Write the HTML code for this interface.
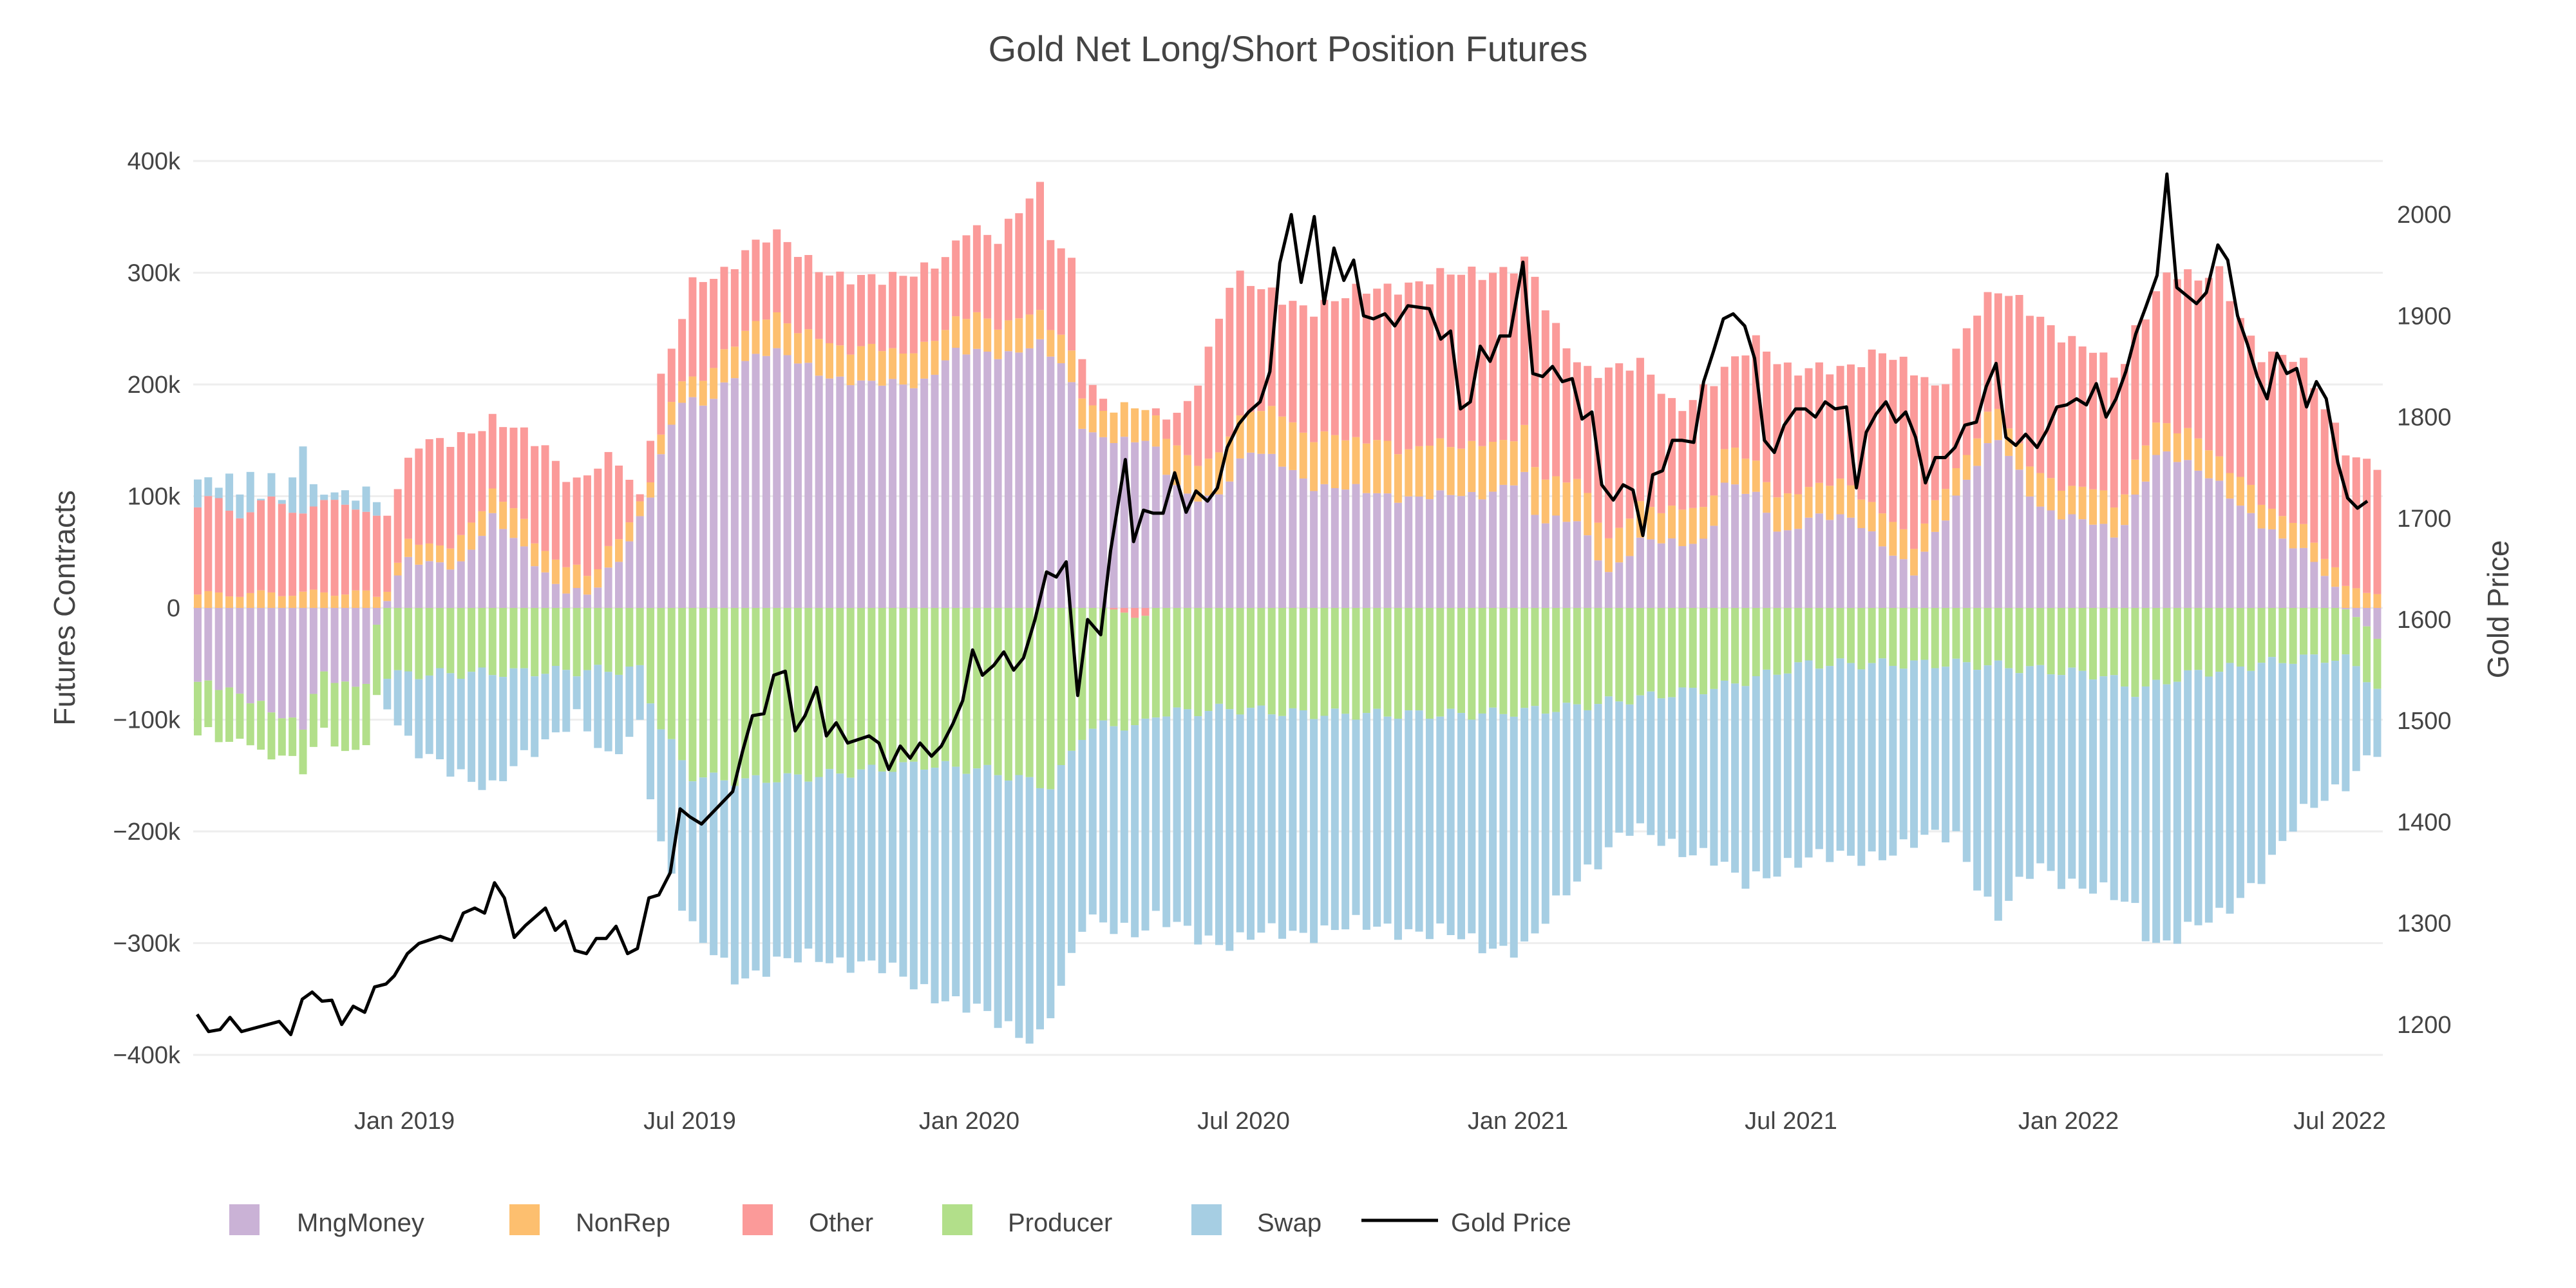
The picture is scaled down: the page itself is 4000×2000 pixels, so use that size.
<!DOCTYPE html>
<html><head><meta charset="utf-8"><style>
html,body{margin:0;padding:0;background:#fff;}
svg{display:block;font-family:"Liberation Sans","DejaVu Sans",sans-serif;}
</style></head><body>
<svg id="s" width="4000" height="2000" xmlns="http://www.w3.org/2000/svg"></svg>
<script>
(function(){
var S=document.getElementById('s'),h='';
function Y(v){return 944-v*1.735;}
function GY(v){return 962-(v-1600)*1.572;}
for(var k=-400;k<=400;k+=100){h+='<line x1="300" x2="3700" y1="'+Y(k)+'" y2="'+Y(k)+'" stroke="#eee" stroke-width="3"/>';
 h+='<text x="280" y="'+(Y(k)+13)+'" font-size="38" fill="#444" text-anchor="end">'+(k==0?'0':(k<0?'\u2212':'')+Math.abs(k)+'k')+'</text>';}
for(var g=1200;g<=2000;g+=100){h+='<text x="3722" y="'+(GY(g)+13)+'" font-size="38" fill="#444">'+g+'</text>';}
function interp(a,x){if(x<=a[0][0])return a[0][1];for(var i=1;i<a.length;i++){if(x<=a[i][0]){var t=(x-a[i-1][0])/(a[i][0]-a[i-1][0]);return a[i-1][1]+t*(a[i][1]-a[i-1][1]);}}return a[a.length-1][1];}
var P=[[120,115],[228,100],[230,68],[255,145],[300,165],[330,150],[350,110],[375,135],[390,100],[400,200],[410,235],[420,285],[440,300],[455,325],[470,335],[490,310],[510,300],[540,290],[580,320],[590,340],[605,325],[632,385],[640,330],[655,300],[660,200],[680,180],[700,170],[720,170],[735,230],[750,300],[770,280],[800,270],[850,290],[900,300],[930,310],[945,250],[965,215],[1000,215],[1020,180],[1050,210],[1070,240],[1090,215],[1120,210],[1145,235],[1165,210],[1180,190],[1200,265],[1215,285],[1240,260],[1275,230],[1290,200],[1300,250],[1320,305],[1340,290],[1350,300],[1375,230],[1400,220],[1430,140],[1445,128]];
var M=[[120,-66],[160,-85],[185,-108],[195,-60],[215,-70],[226,-60],[230,-8],[240,20],[245,40],[280,40],[300,80],[320,50],[340,20],[360,10],[380,50],[395,100],[405,150],[415,185],[430,180],[455,225],[470,230],[500,210],[530,200],[560,200],[580,230],[610,225],[632,240],[650,210],[660,155],[700,150],[710,120],[720,100],[740,100],[760,140],[780,130],[800,110],[850,100],[900,100],[930,120],[935,75],[960,80],[980,30],[1000,60],[1040,60],[1050,110],[1070,100],[1085,65],[1100,80],[1130,80],[1145,60],[1165,30],[1180,70],[1200,125],[1215,155],[1240,90],[1270,80],[1290,60],[1300,100],[1315,145],[1330,130],[1350,110],[1370,85],[1390,60],[1410,40],[1430,0],[1445,-25]];
var NR=[[120,12],[220,14],[230,10],[300,25],[400,15],[450,30],[600,30],[660,25],[700,30],[800,45],[900,45],[1000,30],[1100,30],[1200,25],[1300,30],[1445,15]];
var PR=[[120,-48],[160,-40],[185,-35],[195,-55],[228,-60],[230,-60],[390,-55],[400,-100],[420,-150],[450,-155],[500,-150],[560,-140],[600,-145],[640,-160],[660,-110],[700,-95],[750,-90],[800,-95],[900,-95],[950,-90],[1000,-80],[1050,-70],[1100,-50],[1200,-50],[1280,-60],[1300,-75],[1330,-60],[1400,-45],[1445,-45]];
var B=[[230,-70],[250,-130],[275,-140],[300,-165],[325,-125],[350,-95],[370,-140],[390,-100],[400,-200],[420,-290],[450,-330],[500,-310],[550,-330],[590,-360],[632,-385],[650,-330],[660,-280],[700,-280],[750,-300],[780,-290],[850,-285],[900,-300],[930,-305],[960,-240],[990,-200],[1040,-220],[1060,-250],[1090,-225],[1120,-225],[1160,-215],[1190,-200],[1215,-280],[1240,-230],[1270,-250],[1300,-270],[1310,-300],[1330,-290],[1350,-280],[1380,-230],[1400,-190],[1430,-150],[1445,-128]];
var C={mm:'#cab2d6',nr:'#fdbf6f',ot:'#fb9a99',pr:'#b2df8a',sw:'#a6cee3'};
function rect(x,a,b,c){var y1=Y(a),y2=Y(b);h+='<rect x="'+(x-6)+'" y="'+Math.min(y1,y2)+'" width="12" height="'+Math.abs(y2-y1)+'" fill="'+c+'"/>';}
for(var i=0;i<208;i++){
 var x=307+i*16.35,tx=x/2.551;
 var nz=Math.sin(i*2.3)*6+Math.sin(i*0.7)*4;
 var m=interp(M,tx)+nz*0.6,n=interp(NR,tx)+Math.sin(i*1.3)*3,p=interp(PR,tx)+Math.sin(i*1.7)*5;
 var o,sw,tp;
 if(tx<229){o=78+Math.sin(i*1.1)*8;sw=interp(P,tx)-o-n+Math.sin(i*2.9)*12;if(i==10)sw=60;}
 else{tp=interp(P,tx)+nz;o=tp-Math.max(m,0)-n;sw=interp(B,tx)+nz*1.2-p-Math.min(m,0);}
 var pos=0,neg=0;
 [[m,C.mm],[n,C.nr],[o,C.ot],[p,C.pr],[sw,C.sw]].forEach(function(q){var v=q[0];
  if(v>=0){rect(x,pos,pos+v,q[1]);pos+=v;}else{rect(x,neg,neg+v,q[1]);neg+=v;}});
}
var G=[[120,1210],[127,1193],[134,1195],[140,1207],[147,1193],[170,1203],[177,1190],[184,1225],[190,1232],[196,1223],[202,1224],[208,1200],[215,1218],[222,1212],[228,1237],[235,1240],[240,1248],[248,1270],[255,1280],[268,1287],[275,1283],[282,1310],[289,1315],[295,1310],[301,1340],[307,1325],[313,1286],[320,1298],[332,1315],[338,1293],[344,1302],[350,1273],[357,1270],[363,1285],[369,1285],[375,1297],[382,1270],[388,1275],[395,1325],[401,1328],[408,1350],[414,1413],[420,1405],[427,1398],[446,1430],[452,1470],[458,1505],[465,1507],[471,1545],[478,1549],[484,1490],[490,1505],[497,1533],[503,1485],[509,1498],[516,1478],[529,1485],[535,1478],[541,1452],[548,1475],[554,1463],[560,1478],[567,1465],[573,1475],[580,1497],[586,1520],[592,1570],[598,1545],[605,1555],[611,1568],[617,1550],[623,1562],[630,1600],[637,1647],[643,1642],[649,1657],[656,1525],[662,1600],[670,1585],[676,1668],[685,1758],[690,1677],[696,1708],[702,1705],[708,1705],[715,1745],[722,1706],[728,1727],[735,1717],[741,1730],[747,1770],[754,1793],[760,1805],[767,1815],[773,1845],[779,1952],[786,2000],[792,1933],[800,1998],[806,1912],[812,1967],[818,1935],[824,1955],[830,1900],[836,1897],[843,1902],[849,1890],[857,1910],[870,1907],[877,1877],[883,1885],[889,1808],[895,1815],[901,1870],[907,1855],[913,1880],[919,1880],[927,1953],[933,1843],[939,1840],[945,1850],[951,1835],[957,1838],[963,1798],[969,1805],[975,1733],[982,1718],[988,1733],[994,1728],[1000,1683],[1006,1743],[1012,1747],[1018,1777],[1024,1777],[1031,1775],[1037,1835],[1043,1865],[1049,1897],[1055,1902],[1062,1890],[1068,1858],[1074,1777],[1080,1765],[1086,1792],[1093,1808],[1099,1808],[1105,1800],[1111,1815],[1117,1808],[1124,1810],[1130,1730],[1136,1785],[1142,1803],[1148,1815],[1154,1795],[1160,1805],[1166,1780],[1172,1735],[1178,1760],[1184,1760],[1190,1770],[1196,1792],[1203,1795],[1209,1830],[1215,1853],[1221,1780],[1227,1772],[1233,1783],[1240,1770],[1246,1787],[1252,1810],[1258,1812],[1264,1818],[1270,1812],[1276,1833],[1282,1800],[1288,1818],[1294,1845],[1300,1882],[1306,1908],[1313,1940],[1319,2040],[1325,1928],[1331,1920],[1337,1912],[1343,1923],[1350,1970],[1356,1955],[1362,1900],[1368,1872],[1374,1840],[1380,1818],[1386,1863],[1392,1843],[1398,1848],[1404,1810],[1410,1835],[1416,1818],[1423,1755],[1429,1720],[1435,1710],[1441,1717]];
h+='<polyline fill="none" stroke="#000" stroke-width="5" stroke-linejoin="round" points="'+G.map(function(q){return (q[0]*2.551).toFixed(1)+','+GY(q[1]).toFixed(1);}).join(' ')+'"/>';
[['Jan 2019',628],['Jul 2019',1071],['Jan 2020',1505],['Jul 2020',1931],['Jan 2021',2357],['Jul 2021',2781],['Jan 2022',3212],['Jul 2022',3633]].forEach(function(t){h+='<text x="'+t[1]+'" y="1753" font-size="38" fill="#444" text-anchor="middle">'+t[0]+'</text>';});
h+='<text x="2000" y="95" font-size="56" fill="#444" text-anchor="middle">Gold Net Long/Short Position Futures</text>';
h+='<text transform="translate(116,944) rotate(-90)" font-size="46" fill="#444" text-anchor="middle">Futures Contracts</text>';
h+='<text transform="translate(3895,946) rotate(-90)" font-size="46" fill="#444" text-anchor="middle">Gold Price</text>';
[[356,461,'MngMoney',C.mm],[791,894,'NonRep',C.nr],[1153,1256,'Other',C.ot],[1463,1565,'Producer',C.pr],[1850,1952,'Swap',C.sw]].forEach(function(l){
 h+='<rect x="'+l[0]+'" y="1870" width="47" height="48" fill="'+l[3]+'"/><text x="'+l[1]+'" y="1912" font-size="40" fill="#444">'+l[2]+'</text>';});
h+='<line x1="2114" x2="2233" y1="1895" y2="1895" stroke="#000" stroke-width="5"/><text x="2253" y="1912" font-size="40" fill="#444">Gold Price</text>';
S.innerHTML=h;
})();
</script>
</body></html>
